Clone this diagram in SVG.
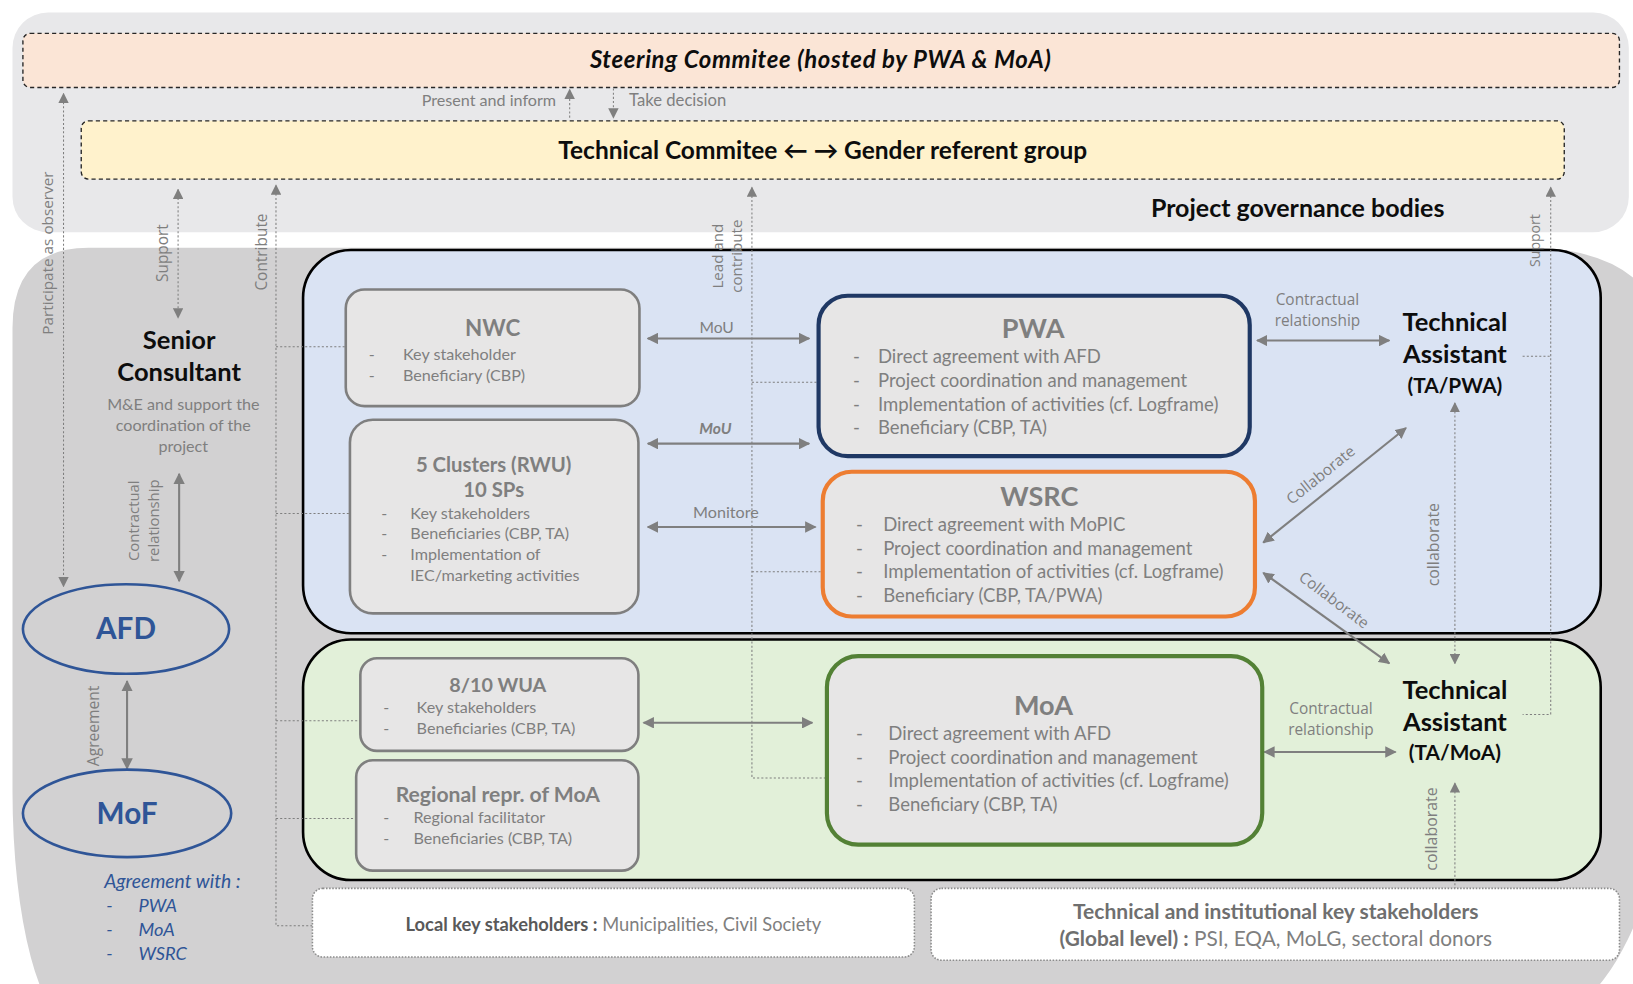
<svg xmlns="http://www.w3.org/2000/svg" width="1633" height="984" viewBox="0 0 1633 984">
<defs>
<marker id="ah" viewBox="0 0 10 10" refX="9" refY="5" markerWidth="11" markerHeight="11" markerUnits="userSpaceOnUse" orient="auto-start-reverse"><path d="M0,0 L10,5 L0,10 z" fill="#7f7f7f"/></marker>
<marker id="ad" viewBox="0 0 10 10" refX="9" refY="5" markerWidth="10" markerHeight="10" markerUnits="userSpaceOnUse" orient="auto-start-reverse"><path d="M0,0 L10,5 L0,10 z" fill="#7f7f7f"/></marker>
<style>
.c{font-family:Lato,"Liberation Sans",sans-serif}
.o{font-family:"Open Sans","Liberation Sans",sans-serif}
.g{fill:#7f7f7f}
.k{fill:#0d0d0d}
.bl{fill:#2f5597}
.b{font-weight:bold}
.i{font-style:italic}
.m{text-anchor:middle}
.node{fill:#e7e6e6;stroke:#7f7f7f;stroke-width:2.5}
.sol{stroke:#7f7f7f;stroke-width:2;fill:none;marker-start:url(#ah);marker-end:url(#ah)}
.dot{stroke:#7f7f7f;stroke-width:1;stroke-dasharray:2 2;fill:none}
.da{marker-start:url(#ad)}
.db{marker-start:url(#ad);marker-end:url(#ad)}
.de{marker-end:url(#ad)}
.dash{stroke:#262626;stroke-width:1.3;stroke-dasharray:4 3}
.lot{fill:#fff;stroke:#8c8c8c;stroke-width:1.5;stroke-dasharray:1.5 1.5}
.s15{font-size:15.5px}
.s17{font-size:17.8px}
.rl{font-size:14.8px}
.ta{font-size:24.5px}
</style>
</defs>
<rect width="1633" height="984" fill="#fff"/>
<g transform="scale(1.04145)">
<!-- backgrounds -->
<g id="bg-governance"><rect x="12" y="12" width="1552" height="211" rx="34" fill="#e8e8ea"/></g>
<g id="bg-project"><path d="M12,315 Q12,238 85,238 H1480 Q1600,245 1600,345 V720 A140,265 0 0 1 1440,985 H72 A60,225 0 0 1 12,760 Z" fill="#d2d1d2"/></g>

<g id="steering"><rect x="22" y="32" width="1533" height="52" rx="7" fill="#fbe5d6" class="dash"/>
<text x="788" y="65" class="c b i k m" font-size="23" letter-spacing="0.6">Steering Commitee (hosted by PWA &amp; MoA)</text></g>
<g id="technical-committee"><rect x="78" y="116" width="1424" height="56" rx="7" fill="#fff2cc" class="dash"/>
<text x="790" y="153" class="c b k m" font-size="23.5">Technical Commitee ← → Gender referent group</text></g>
<g id="governance-label"><text x="1246" y="208" class="c b k m" font-size="24">Project governance bodies</text></g>

<g id="blue-zone"><rect x="291" y="240" width="1246" height="368" rx="46" fill="#dae3f3" stroke="#000" stroke-width="2.5"/></g>
<g id="green-zone"><rect x="291" y="614" width="1246" height="231" rx="46" fill="#e2f0d9" stroke="#000" stroke-width="2.5"/></g>

<!-- connectors -->
<g id="connectors">
<line x1="547" y1="113" x2="547" y2="86" class="dot de"/>
<line x1="589" y1="85" x2="589" y2="113" class="dot de"/>
<line x1="61" y1="90" x2="61" y2="563" class="dot db"/>
<line x1="171" y1="182" x2="171" y2="305" class="dot db"/>
<path d="M265,178 V889 H300" class="dot da"/>
<path d="M265,333 H332 M265,493 H336 M265,692 H346 M265,786 H342" class="dot"/>
<path d="M722,180 V747 H794" class="dot da"/>
<path d="M722,367 H786 M722,549 H790" class="dot"/>
<path d="M1489,180 V686 H1462" class="dot da"/>
<path d="M1462,342 H1489" class="dot"/>
<line x1="1397" y1="387" x2="1397" y2="637" class="dot db"/>
<line x1="1397" y1="752" x2="1397" y2="853" class="dot da"/>
<line x1="172" y1="455" x2="172" y2="558" class="sol"/>
<line x1="122" y1="654" x2="122" y2="738" class="sol" stroke-width="1.5"/>
<line x1="622" y1="325" x2="777" y2="325" class="sol"/>
<line x1="622" y1="426" x2="777" y2="426" class="sol"/>
<line x1="622" y1="506" x2="783" y2="506" class="sol"/>
<line x1="618" y1="694" x2="780" y2="694" class="sol"/>
<line x1="1207" y1="327" x2="1334" y2="327" class="sol"/>
<line x1="1214" y1="722" x2="1340" y2="722" class="sol"/>
<line x1="1213" y1="521" x2="1350" y2="411" class="sol"/>
<line x1="1213" y1="550" x2="1334" y2="637" class="sol"/>
<!-- connector labels -->
<text x="534" y="102" class="c g" font-size="15.5" text-anchor="end">Present and inform</text>
<text x="604" y="102" class="c g" font-size="16">Take decision</text>
<text transform="translate(46,243) rotate(-90)" class="o g m" font-size="14.7" dy=".35em">Participate as observer</text>
<text transform="translate(156,243) rotate(-90)" class="o g m" font-size="14.8" dy=".35em">Support</text>
<text transform="translate(251,242) rotate(-90)" class="o g m" font-size="14.8" dy=".35em">Contribute</text>
<text transform="translate(689,246) rotate(-90)" class="o g m" font-size="14.5" dy=".35em">Lead and</text>
<text transform="translate(707,246) rotate(-90)" class="o g m" font-size="14.5" dy=".35em">contribute</text>
<text transform="translate(1474,231) rotate(-90)" class="o g m" font-size="13.5" dy=".35em">Support</text>
<text transform="translate(128,500) rotate(-90)" class="o g m" font-size="14.3" dy=".35em">Contractual</text>
<text transform="translate(148,500) rotate(-90)" class="o g m" font-size="14.3" dy=".35em">relationship</text>
<text transform="translate(90,697) rotate(-90)" class="o g m" font-size="15" dy=".35em">Agreement</text>
<text x="688" y="320" class="c g m" font-size="15">MoU</text>
<text x="687" y="417" class="c g m b i" font-size="15">MoU</text>
<text x="697" y="497" class="c g m" font-size="15.5">Monitore</text>
<text x="1265" y="293" class="o g m rl">Contractual</text>
<text x="1265" y="313" class="o g m rl">relationship</text>
<text x="1278" y="686" class="o g m rl">Contractual</text>
<text x="1278" y="706" class="o g m rl">relationship</text>
<text transform="translate(1268,456) rotate(-39)" class="o g m rl" dy=".35em">Collaborate</text>
<text transform="translate(1281,576) rotate(37)" class="o g m rl" dy=".35em">Collaborate</text>
<text transform="translate(1376,523) rotate(-90)" class="o g m" font-size="15.3" dy=".35em">collaborate</text>
<text transform="translate(1374,796) rotate(-90)" class="o g m" font-size="15.3" dy=".35em">collaborate</text>
</g>

<!-- nodes -->
<g id="nwc"><rect x="332" y="278" width="282" height="112" rx="18" class="node"/>
<text x="473" y="323" class="c b g m" font-size="21.5">NWC</text>
<text x="354" y="346" class="c g s15">-</text><text x="387" y="346" class="c g s15">Key stakeholder</text>
<text x="354" y="366" class="c g s15">-</text><text x="387" y="366" class="c g s15">Beneficiary (CBP)</text></g>

<g id="clusters"><rect x="336" y="403" width="277" height="186" rx="22" class="node"/>
<text x="474" y="453" class="c b g m" font-size="19.5">5 Clusters (RWU)</text>
<text x="474" y="477" class="c b g m" font-size="19.5">10 SPs</text>
<text x="366" y="498" class="c g s15">-</text><text x="394" y="498" class="c g s15">Key stakeholders</text>
<text x="366" y="518" class="c g s15">-</text><text x="394" y="518" class="c g s15">Beneficiaries (CBP, TA)</text>
<text x="366" y="538" class="c g s15">-</text><text x="394" y="538" class="c g s15">Implementation of</text>
<text x="394" y="558" class="c g s15">IEC/marketing activities</text></g>

<g id="pwa"><rect x="786" y="284" width="414" height="154" rx="28" fill="#e7e6e6" stroke="#1f3864" stroke-width="4"/>
<text x="992" y="325" class="c b g m" font-size="26">PWA</text>
<text x="819" y="349" class="c g s17">-</text><text x="843" y="349" class="c g s17">Direct agreement with AFD</text>
<text x="819" y="372" class="c g s17">-</text><text x="843" y="372" class="c g s17">Project coordination and management</text>
<text x="819" y="395" class="c g s17">-</text><text x="843" y="395" class="c g s17">Implementation of activities (cf. Logframe)</text>
<text x="819" y="417" class="c g s17">-</text><text x="843" y="417" class="c g s17">Beneficiary (CBP, TA)</text></g>

<g id="wsrc"><rect x="790" y="453" width="415" height="139" rx="28" fill="#e7e6e6" stroke="#ed7d31" stroke-width="4"/>
<text x="998" y="486" class="c b g m" font-size="26">WSRC</text>
<text x="822" y="510" class="c g s17">-</text><text x="848" y="510" class="c g s17">Direct agreement with MoPIC</text>
<text x="822" y="533" class="c g s17">-</text><text x="848" y="533" class="c g s17">Project coordination and management</text>
<text x="822" y="555" class="c g s17">-</text><text x="848" y="555" class="c g s17">Implementation of activities (cf. Logframe)</text>
<text x="822" y="578" class="c g s17">-</text><text x="848" y="578" class="c g s17">Beneficiary (CBP, TA/PWA)</text></g>

<g id="ta-pwa">
<text x="1397" y="318" class="c b k m ta">Technical</text>
<text x="1397" y="349" class="c b k m ta">Assistant</text>
<text x="1397" y="377" class="c b k m" font-size="20">(TA/PWA)</text></g>

<g id="wua"><rect x="346" y="632" width="267" height="89" rx="16" class="node"/>
<text x="478" y="664" class="c b g m" font-size="19">8/10 WUA</text>
<text x="368" y="685" class="c g s15">-</text><text x="400" y="685" class="c g s15">Key stakeholders</text>
<text x="368" y="705" class="c g s15">-</text><text x="400" y="705" class="c g s15">Beneficiaries (CBP, TA)</text></g>

<g id="regional"><rect x="342" y="730" width="271" height="106" rx="16" class="node"/>
<text x="478" y="770" class="c b g m" font-size="20.3">Regional repr. of MoA</text>
<text x="368" y="790" class="c g s15">-</text><text x="397" y="790" class="c g s15">Regional facilitator</text>
<text x="368" y="810" class="c g s15">-</text><text x="397" y="810" class="c g s15">Beneficiaries (CBP, TA)</text></g>

<g id="moa"><rect x="794" y="630" width="418" height="181" rx="30" fill="#e7e6e6" stroke="#538135" stroke-width="4"/>
<text x="1002" y="687" class="c b g m" font-size="26">MoA</text>
<text x="822" y="711" class="c g s17">-</text><text x="853" y="711" class="c g s17">Direct agreement with AFD</text>
<text x="822" y="734" class="c g s17">-</text><text x="853" y="734" class="c g s17">Project coordination and management</text>
<text x="822" y="756" class="c g s17">-</text><text x="853" y="756" class="c g s17">Implementation of activities (cf. Logframe)</text>
<text x="822" y="779" class="c g s17">-</text><text x="853" y="779" class="c g s17">Beneficiary (CBP, TA)</text></g>

<g id="ta-moa">
<text x="1397" y="671" class="c b k m ta">Technical</text>
<text x="1397" y="702" class="c b k m ta">Assistant</text>
<text x="1397" y="730" class="c b k m" font-size="20">(TA/MoA)</text></g>

<g id="senior-consultant">
<text x="172" y="335" class="c b k m ta">Senior</text>
<text x="172" y="366" class="c b k m ta">Consultant</text>
<text x="176" y="394" class="c g m s15">M&amp;E and support the</text>
<text x="176" y="414" class="c g m s15">coordination of the</text>
<text x="176" y="434" class="c g m s15">project</text></g>

<g id="afd"><ellipse cx="121" cy="604" rx="99" ry="43" fill="none" stroke="#2f5597" stroke-width="2.5"/>
<text x="121" y="614" class="c b bl m" font-size="28.5">AFD</text></g>
<g id="mof"><ellipse cx="122" cy="781" rx="100" ry="42" fill="none" stroke="#2f5597" stroke-width="2.5"/>
<text x="122" y="791" class="c b bl m" font-size="28.5">MoF</text></g>
<g id="agreement-list">
<text x="100" y="853" class="c i bl" font-size="18.5">Agreement with :</text>
<text x="102" y="876" class="c i bl" font-size="17.5">-</text><text x="133" y="876" class="c i bl" font-size="17.5">PWA</text>
<text x="102" y="899" class="c i bl" font-size="17.5">-</text><text x="133" y="899" class="c i bl" font-size="17.5">MoA</text>
<text x="102" y="922" class="c i bl" font-size="17.5">-</text><text x="133" y="922" class="c i bl" font-size="17.5">WSRC</text></g>

<g id="local-stakeholders"><rect x="300" y="853" width="578" height="66" rx="10" class="lot"/>
<text x="589" y="894" class="c g m" font-size="17.6"><tspan class="b" fill="#595959">Local key stakeholders :</tspan> Municipalities, Civil Society</text></g>
<g id="global-stakeholders"><rect x="894" y="853" width="661" height="69" rx="10" class="lot"/>
<text x="1225" y="882" class="c b m" fill="#6f6f6f" font-size="20.2">Technical and institutional key stakeholders</text>
<text x="1225" y="908" class="c g m" font-size="20"><tspan class="b" fill="#6f6f6f">(Global level) :</tspan> PSI, EQA, MoLG, sectoral donors</text></g>
</g>
</svg>
